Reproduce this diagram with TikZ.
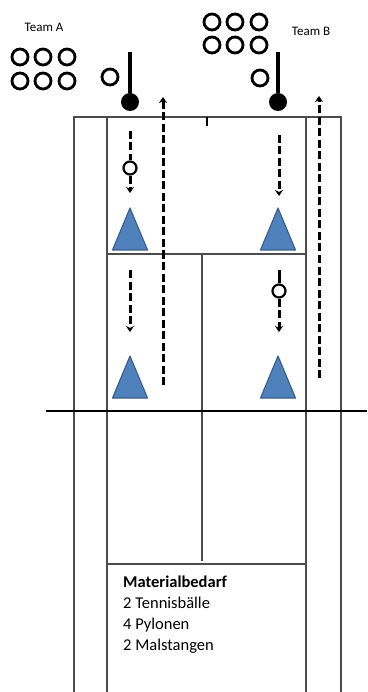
\documentclass[tikz,border=0pt]{standalone}
\usepackage{fontspec}
\setmainfont{Carlito}
\usetikzlibrary{arrows.meta, positioning}
\definecolor{pylonblue}{HTML}{4F81BD}
\definecolor{pylonedge}{HTML}{385D8A}

\begin{document}
\begin{tikzpicture}[x=1pt, y=-1pt]
	\tikzset {court/.style={draw=black!70, line width=1.1pt},
		player/.style={circle, draw, line width=2.8pt, minimum size=16pt, inner sep=0pt},
		ball/.style={circle, draw, line width=2.2pt, minimum size=13pt, inner sep=0pt, fill=white},
		poleball/.style={circle, fill=black, minimum size=18pt, inner sep=0pt},
		run/.style={-{Stealth[length=6pt, width=8pt]}, line width=3pt, dash pattern=on 8pt off 3.5pt},
		pylon/.style={fill=pylonblue, draw=pylonedge, line width=1.1pt, line join=round} }

	\useasboundingbox (0,0) rectangle (367,692);

	% court
	\draw[court] (74,692) -- (74,117) -- (341,117) -- (341,692);
	\draw[court] (107,117) -- (107,692);
	\draw[court] (306,117) -- (306,692);
	\draw[court] (107,254) -- (306,254);
	\draw[court] (202,254) -- (202,561);
	\draw[court] (107,564) -- (306,564);
	\draw[line width=2.4pt] (207,117) -- (207,126);
	\draw[line width=2.8pt] (46,411) -- (367,411);

	% teams
	\node (teamA) at (44,27) {\fontsize{13}{15}\selectfont Team A};
	\node (teamB) at (311,31) {\fontsize{13}{15}\selectfont Team B};
	\foreach \x [count=\i] in {20,43,67} {
		\node[player] (a\i) at (\x,57) {};
		\node[player] (a\i b) at (\x,81) {};
		\node[player] (b\i) at (\x+192,22) {};
		\node[player] (b\i b) at (\x+192,45) {};
	}
	\node[player] (startA) at (110,77) {};
	\node[player] (startB) at (260,78) {};

	% poles
	\node[poleball] (poleA) at (130,102) {};
	\node[poleball] (poleB) at (278,102) {};
	\coordinate (poleAtop) at (130,52);
	\coordinate (poleBtop) at (278,52);
	\draw[line width=3.2pt] (poleAtop) -- (poleA);
	\draw[line width=3.2pt] (poleBtop) -- (poleB);

	% runs back
	\coordinate (backA0) at (163,385);
	\coordinate (backA1) at (163,97);
	\coordinate (backB0) at (319,378);
	\coordinate (backB1) at (319,96);
	\draw[run] (backA0) -- (backA1);
	\draw[run] (backB0) -- (backB1);

	% passes
	\coordinate (passA0) at (130,131);
	\node[ball] (ballA) at (130,168) {};
	\coordinate (passA1) at (130,193);
	\draw[line width=3pt, dash pattern=on 8pt off 3.5pt] (passA0) -- (ballA);
	\draw[run] (ballA) -- (passA1);

	\coordinate (passB0) at (279,135);
	\coordinate (passB1) at (279,196);
	\draw[run] (passB0) -- (passB1);

	\coordinate (passC0) at (130,270);
	\coordinate (passC1) at (130,332);
	\draw[run] (passC0) -- (passC1);

	\coordinate (passD0) at (279,270);
	\node[ball] (ballD) at (279,291) {};
	\coordinate (passD1) at (279,332);
	\draw[line width=3pt] (passD0) -- (ballD);
	\draw[run] (ballD) -- (passD1);

	% pylons
	\foreach \x/\y in {130/208, 278/208, 130/356, 278/356}
		\filldraw[pylon] (\x,\y) -- (\x+17.5,\y+42) -- (\x-17.5,\y+42) -- cycle;

	% material
	\node[anchor=north west, align=left, inner sep=0pt, font=\fontsize{16.5}{21}\selectfont] (material) at (123,576)
		{\textbf{Materialbedarf}\\2 Tennisbälle\\4 Pylonen\\2 Malstangen};
\end{tikzpicture}
\end{document}
